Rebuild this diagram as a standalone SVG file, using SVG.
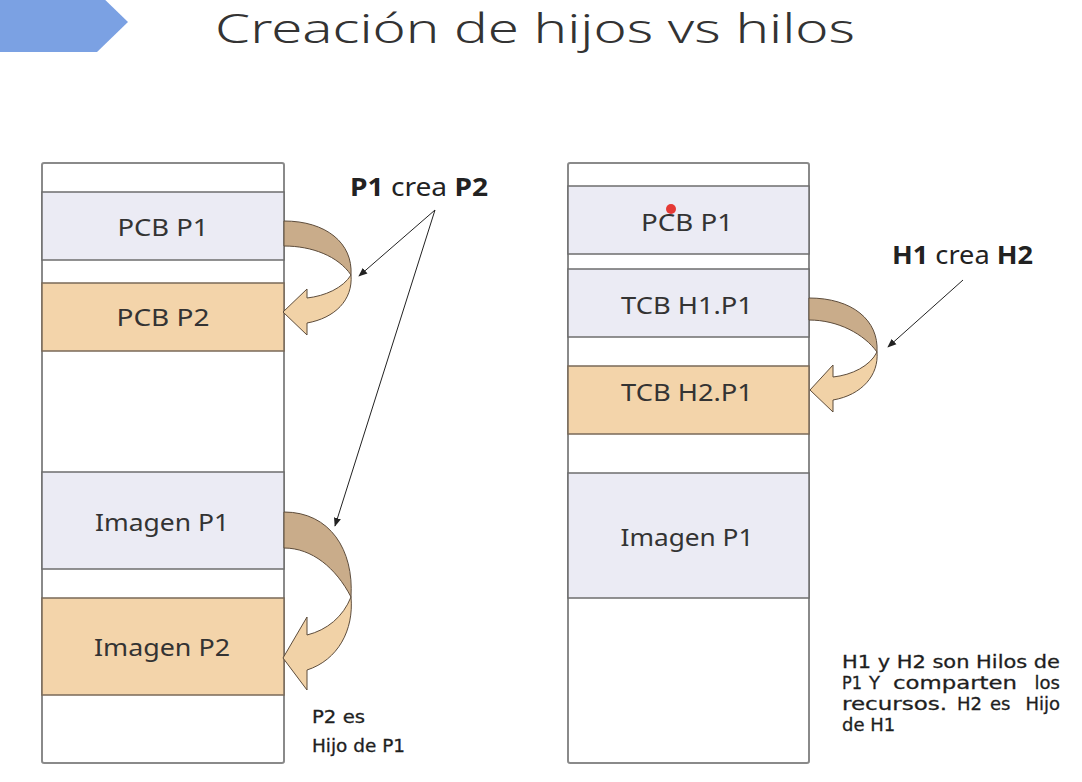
<svg xmlns="http://www.w3.org/2000/svg" width="1082" height="782" viewBox="0 0 1082 782">
  <style>
    .col { fill: #ffffff; stroke: #8a8a8a; stroke-width: 2; }
    .seg-a { fill: #ebebf4; stroke: #6e6e6e; stroke-width: 1.5; }
    .seg-b { fill: #f3d4aa; stroke: #7a6a58; stroke-width: 1.5; }
    .lbl { font-family: "Noto Sans", "Liberation Sans", sans-serif; font-size: 24px; fill: #333333; text-anchor: middle; }
    .band-top { fill: #c9ac8a; stroke: #5d4c3b; stroke-width: 1; }
    .band-low { fill: #f1d2a7; stroke: #5d4c3b; stroke-width: 1; }
    .ptr { fill: none; stroke: #222222; stroke-width: 1; }
    .note { font-family: "DejaVu Sans", "Noto Sans", sans-serif; font-size: 18px; fill: #1e1e1e; stroke: #1e1e1e; stroke-width: 0.3; }
    .end { text-anchor: end; }
    .cap { font-family: "Noto Sans", "Liberation Sans", sans-serif; font-size: 25px; fill: #222222; }
  </style>
  <defs>
    <marker id="tip" viewBox="0 0 10 10" refX="9" refY="5" markerWidth="9" markerHeight="9" markerUnits="userSpaceOnUse" orient="auto">
      <path d="M0,1 L10,5 L0,9 Z" fill="#222222"/>
    </marker>
  </defs>

  <rect width="1082" height="782" fill="#ffffff"/>

  <!-- header tab and title -->
  <polygon points="0,-8 97,-8 128,22 97,52 0,52" fill="#7ba1e3"/>
  <text x="215" y="43" font-family="Noto Sans, Liberation Sans, sans-serif" font-size="40" font-weight="300" fill="#333333" textLength="640" lengthAdjust="spacingAndGlyphs">Creación de hijos vs hilos</text>

  <!-- left memory column: process creation -->
  <g id="mem-procesos">
    <rect class="col" x="42" y="163" width="242" height="600" rx="2"/>
    <g id="pcb-p1">
      <rect class="seg-a" x="42" y="192" width="242" height="68"/>
      <text class="lbl" x="163" y="236" textLength="91" lengthAdjust="spacingAndGlyphs">PCB P1</text>
    </g>
    <g id="pcb-p2">
      <rect class="seg-b" x="42" y="283" width="242" height="68"/>
      <text class="lbl" x="163" y="326" textLength="93" lengthAdjust="spacingAndGlyphs">PCB P2</text>
    </g>
    <g id="imagen-p1">
      <rect class="seg-a" x="42" y="472" width="242" height="97"/>
      <text class="lbl" x="162" y="531" textLength="134" lengthAdjust="spacingAndGlyphs">Imagen P1</text>
    </g>
    <g id="imagen-p2">
      <rect class="seg-b" x="42" y="598" width="242" height="97"/>
      <text class="lbl" x="162" y="656" textLength="136" lengthAdjust="spacingAndGlyphs">Imagen P2</text>
    </g>
  </g>

  <!-- right memory column: thread creation -->
  <g id="mem-hilos">
    <rect class="col" x="568" y="163" width="241" height="600" rx="2"/>
    <g id="pcb-p1-h">
      <rect class="seg-a" x="568" y="186" width="241" height="68"/>
      <text class="lbl" x="687" y="231" textLength="92" lengthAdjust="spacingAndGlyphs">PCB P1</text>
    </g>
    <g id="tcb-h1">
      <rect class="seg-a" x="568" y="269" width="241" height="68"/>
      <text class="lbl" x="687" y="314" textLength="132" lengthAdjust="spacingAndGlyphs">TCB H1.P1</text>
    </g>
    <g id="tcb-h2">
      <rect class="seg-b" x="568" y="366" width="241" height="68"/>
      <text class="lbl" x="687" y="401" textLength="132" lengthAdjust="spacingAndGlyphs">TCB H2.P1</text>
    </g>
    <g id="imagen-p1-h">
      <rect class="seg-a" x="568" y="473" width="241" height="125"/>
      <text class="lbl" x="687" y="546" textLength="133" lengthAdjust="spacingAndGlyphs">Imagen P1</text>
    </g>
    <circle cx="671" cy="209" r="5" fill="#e53935"/>
  </g>

  <!-- connectors: curved ribbon arrows and pointer lines -->
  <g id="connectors">
    <!-- PCB P1 -> PCB P2 -->
    <path class="band-top" d="M284,221 C326,221 353,243 351,275 C338,256 312,246 284,246 Z"/>
    <path class="band-low" d="M351,275 C353,300 335,318 307,323 L307,335 L283,312 L307,289 L307,298 C325,296 343,288 351,275 Z"/>
    <!-- Imagen P1 -> Imagen P2 -->
    <path class="band-top" d="M284,512 C330,512 354,550 351,597 C336,568 312,548 284,548 Z"/>
    <path class="band-low" d="M351,597 C354,630 338,660 307,670 L307,690 L283,658 L307,617 L307,635 C327,630 343,617 351,597 Z"/>
    <!-- TCB H1.P1 -> TCB H2.P1 -->
    <path class="band-top" d="M809,298 C852,298 879,320 877,352 C864,334 838,320 809,320 Z"/>
    <path class="band-low" d="M877,352 C879,375 862,395 833,400 L833,412 L810,390 L833,365 L833,377 C852,375 870,366 877,352 Z"/>

    <line class="ptr" x1="435" y1="210" x2="359" y2="276" marker-end="url(#tip)"/>
    <line class="ptr" x1="435" y1="210" x2="335" y2="526" marker-end="url(#tip)"/>
    <line class="ptr" x1="963" y1="280" x2="888" y2="347" marker-end="url(#tip)"/>
  </g>

  <!-- captions -->
  <g id="cap-p1">
    <text class="cap" x="350" y="196" textLength="138" lengthAdjust="spacingAndGlyphs"><tspan font-weight="700">P1</tspan> crea <tspan font-weight="700">P2</tspan></text>
  </g>
  <g id="cap-h1">
    <text class="cap" x="892" y="264" textLength="141" lengthAdjust="spacingAndGlyphs"><tspan font-weight="700">H1</tspan> crea <tspan font-weight="700">H2</tspan></text>
  </g>
  <g id="note-p2">
    <text class="note" x="312" y="723" textLength="53" lengthAdjust="spacingAndGlyphs">P2 es</text>
    <text class="note" x="312" y="752" textLength="93" lengthAdjust="spacingAndGlyphs">Hijo de P1</text>
  </g>
  <g id="note-hilos">
    <text class="note" x="842" y="668" textLength="218" lengthAdjust="spacingAndGlyphs">H1 y H2 son Hilos de</text>
    <text class="note" x="842" y="689" textLength="20" lengthAdjust="spacingAndGlyphs">P1</text>
    <text class="note" x="869" y="689">Y</text>
    <text class="note" x="893" y="689" textLength="124" lengthAdjust="spacingAndGlyphs">comparten</text>
    <text class="note end" x="1060" y="689">los</text>
    <text class="note" x="842" y="710" textLength="105" lengthAdjust="spacingAndGlyphs">recursos.</text>
    <text class="note" x="957" y="710">H2</text>
    <text class="note" x="990" y="710">es</text>
    <text class="note end" x="1060" y="710">Hijo</text>
    <text class="note" x="842" y="731">de H1</text>
  </g>
</svg>
